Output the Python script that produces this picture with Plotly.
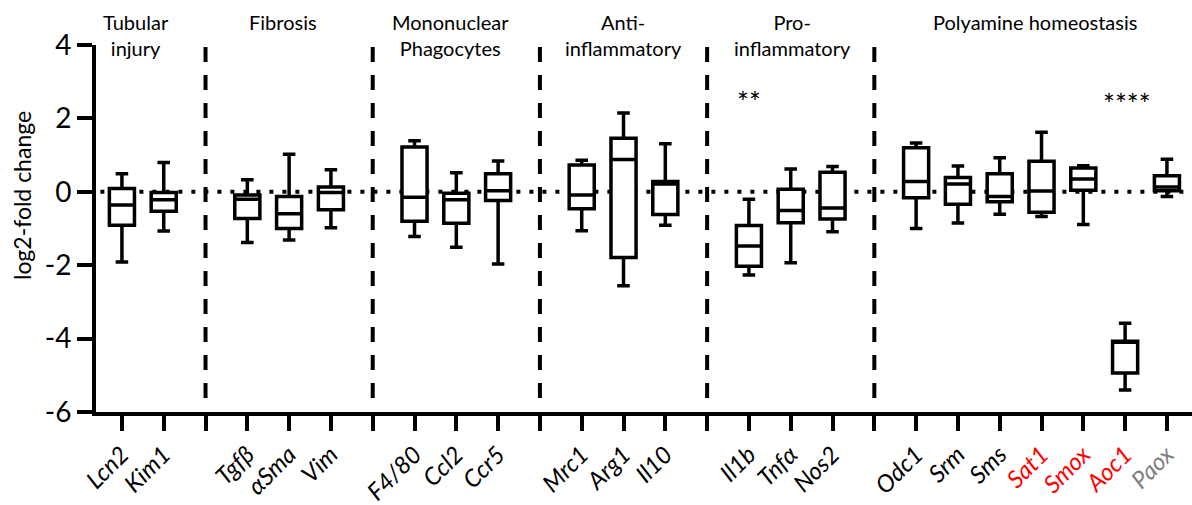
import plotly.graph_objects as go

# x slots (empty strings are divider slots)
slots = ["Lcn2", "Kim1", "", "Tgfβ", "αSma", "Vim", "", "F4/80", "Ccl2", "Ccr5", "",
         "Mrc1", "Arg1", "Il10", "", "Il1b", "Tnfα", "Nos2", "",
         "Odc1", "Srm", "Sms", "Sat1", "Smox", "Aoc1", "Paox"]
label_colors = {"Sat1": "#ff0000", "Smox": "#ff0000", "Aoc1": "#ff0000", "Paox": "#7f7f7f"}

genes = [g for g in slots if g]
upper = [0.49, 0.80, 0.33, 1.02, 0.60, 1.39, 0.52, 0.84, 0.86, 2.15, 1.31,
         -0.20, 0.62, 0.69, 1.33, 0.70, 0.93, 1.62, 0.71, -3.58, 0.89]
q3 = [0.09, -0.02, -0.09, -0.13, 0.13, 1.22, -0.04, 0.49, 0.73, 1.46, 0.28,
      -0.92, 0.07, 0.53, 1.20, 0.39, 0.49, 0.83, 0.65, -4.07, 0.44]
median = [-0.36, -0.22, -0.20, -0.60, -0.02, -0.15, -0.22, 0.03, -0.09, 0.88, 0.21,
          -1.48, -0.51, -0.44, 0.28, 0.21, -0.13, 0.02, 0.35, -4.07, 0.13]
q1 = [-0.91, -0.53, -0.73, -1.00, -0.49, -0.80, -0.86, -0.24, -0.46, -1.79, -0.62,
      -2.03, -0.84, -0.74, -0.16, -0.34, -0.27, -0.56, 0.04, -4.94, 0.03]
lower = [-1.91, -1.07, -1.38, -1.31, -0.98, -1.22, -1.51, -1.97, -1.06, -2.56, -0.91,
         -2.27, -1.93, -1.09, -1.00, -0.85, -0.61, -0.67, -0.89, -5.40, -0.13]

y_ticks = [-6, -4, -2, 0, 2, 4]
y_ticktext = ["-6", "-4", "-2", "0", "2", "4"]

groups = ["Tubular<br>injury", "Fibrosis", "Mononuclear<br>Phagocytes",
          "Anti-<br>inflammatory", "Pro-<br>inflammatory", "Polyamine homeostasis"]
group_centers = [0.33, 3.85, 7.85, 12.0, 16.05, 21.85]
divider_slots = [i for i, g in enumerate(slots) if not g]

significance = [("**", "Il1b", 2.45), ("****", "Aoc1", 2.4)]

pos = [i for i, g in enumerate(slots) if g]

fig = go.Figure()
fig.add_trace(go.Box(
    x=pos, q1=q1, median=median, q3=q3, lowerfence=lower, upperfence=upper,
    boxpoints=False, width=0.6, whiskerwidth=0.5,
    line=dict(color="black", width=3.5), fillcolor="white",
    showlegend=False, hoverinfo="skip"))

ticktext = []
for g in slots:
    if g:
        c = label_colors.get(g, "#000000")
        ticktext.append(f'<span style="color:{c}"><i>{g}</i></span>')
    else:
        ticktext.append("")

shapes = [dict(type="line", xref="paper", yref="y", x0=0.004, x1=1, y0=0, y1=0,
               line=dict(color="black", width=4, dash="4px,9px"), layer="below")]
for d in divider_slots:
    shapes.append(dict(type="line", xref="x", yref="y", x0=d, x1=d, y0=-5.62, y1=4,
                       line=dict(color="black", width=4, dash="15px,13px"), layer="below"))

annotations = []
for t, c in zip(groups, group_centers):
    annotations.append(dict(x=c, y=1.1, xref="x", yref="paper", text=t, showarrow=False,
                            yanchor="top", xanchor="center", align="center",
                            font=dict(size=20, color="black")))
for txt, g, yv in significance:
    annotations.append(dict(x=slots.index(g) + (0.05 if len(txt) > 2 else 0), y=yv,
                            xref="x", yref="y", text=txt,
                            showarrow=False, font=dict(size=28, color="black")))
annotations.append(dict(x=-0.067, y=-0.1, xref="paper", yref="y", text="log2-fold change",
                        textangle=-90, showarrow=False, xanchor="center", yanchor="middle",
                        font=dict(size=23, color="black")))

fig.update_layout(
    width=1192, height=505,
    margin=dict(l=96, r=0, t=45, b=85),
    paper_bgcolor="white", plot_bgcolor="white",
    font=dict(family="Lato", color="black"),
    shapes=shapes, annotations=annotations,
    xaxis=dict(range=[-0.62, 25.6], tickmode="array", tickvals=list(range(len(slots))),
               ticktext=ticktext, tickangle=-45, ticks="outside", ticklen=15, tickwidth=4,
               tickcolor="black", showline=True, linewidth=4, linecolor="black",
               showgrid=False, zeroline=False, tickfont=dict(size=24)),
    yaxis=dict(range=[-6, 4], tickmode="array", tickvals=y_ticks, ticktext=y_ticktext,
               ticks="outside", ticklen=15, tickwidth=4, tickcolor="black",
               showline=True, linewidth=4, linecolor="black", showgrid=False,
               zeroline=False, tickfont=dict(size=28)),
)

fig.write_html("out.html")
